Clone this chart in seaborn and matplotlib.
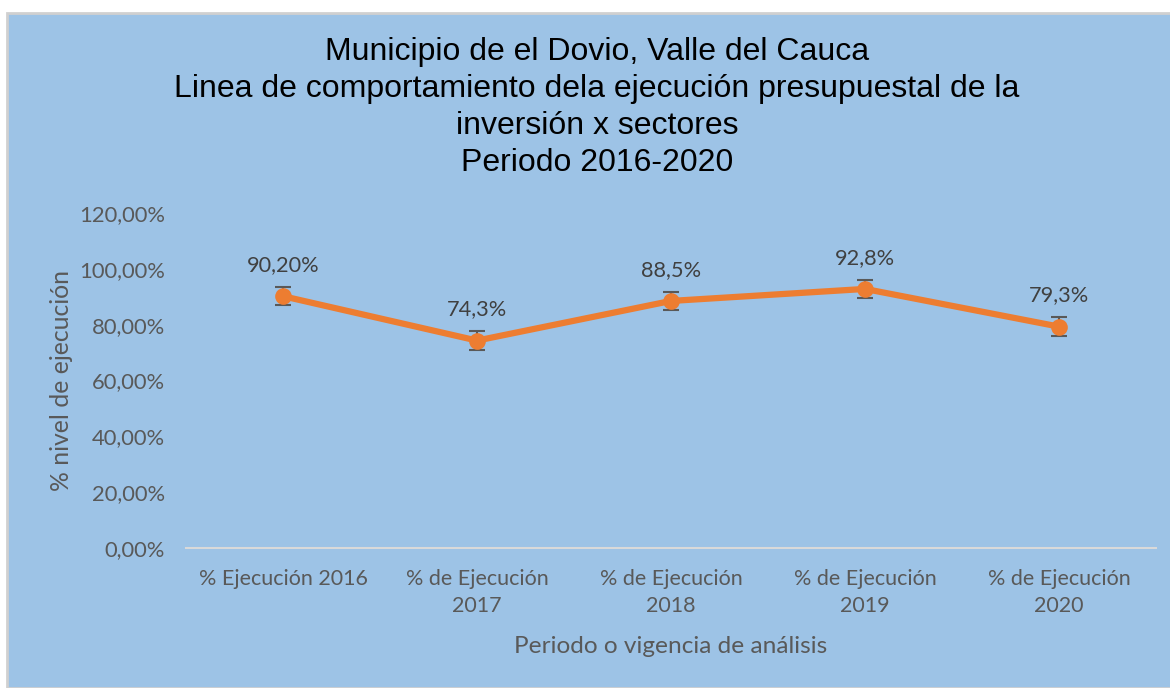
import matplotlib
matplotlib.use("Agg")
import matplotlib.pyplot as plt
import seaborn as sns
import pandas as pd
from matplotlib.patches import Rectangle
from matplotlib.ticker import FuncFormatter, MultipleLocator

# data
CATEGORIES = ["% Ejecución 2016", "% de Ejecución\n2017", "% de Ejecución\n2018",
              "% de Ejecución\n2019", "% de Ejecución\n2020"]
VALUES = [90.2, 74.3, 88.5, 92.8, 79.3]
ERRORS = [3.3, 3.3, 3.3, 3.3, 3.3]
LABELS = ["90,20%", "74,3%", "88,5%", "92,8%", "79,3%"]

TITLE = ("Municipio de el Dovio, Valle del Cauca\n"
         "Linea de comportamiento dela ejecución presupuestal de la\n"
         "inversión x sectores\n"
         "Periodo 2016-2020")

BG = "#9DC3E6"
ORANGE = "#ED7D31"
GRAY = "#595959"
BODY_FONT = ["Lato", "DejaVu Sans"]

sns.set_theme(style="white")
plt.rcParams["font.family"] = BODY_FONT

df = pd.DataFrame({"periodo": CATEGORIES, "valor": VALUES})

W, H = 1170, 688
fig = plt.figure(figsize=(W / 100, H / 100), dpi=100)
fig.patch.set_facecolor("white")
fig.patches.append(Rectangle((7 / W, 0), 1, 1 - 13 / H, transform=fig.transFigure,
                             facecolor=BG, edgecolor="#D0D0D0", linewidth=2, zorder=-5))

ax = fig.add_axes([186 / W, 1 - 548 / H, (1156 - 186) / W, (548 - 213) / H])
ax.set_zorder(2)
ax.patch.set_alpha(0)

pos = list(range(len(CATEGORIES)))
sns.lineplot(x=pos, y=VALUES, ax=ax, color=ORANGE, linewidth=4.5, marker="o",
             markersize=12, markeredgewidth=0, zorder=3)
ax.errorbar(pos, VALUES, yerr=ERRORS, fmt="none", ecolor=GRAY, elinewidth=1.5,
            capsize=6, capthick=1.5, zorder=2)

for x, y, lab in zip(pos, VALUES, LABELS):
    ax.annotate(lab, (x, y), xytext=(0, 22.5), textcoords="offset points",
                ha="center", va="center", fontsize=15.7, color="#404040")

ax.set_xlim(-0.5, len(CATEGORIES) - 0.5)
ax.set_ylim(0, 120)
ax.yaxis.set_major_locator(MultipleLocator(20))
ax.yaxis.set_major_formatter(FuncFormatter(lambda v, p: f"{v:.2f}%".replace(".", ",")))
ax.set_xticks(pos)
ax.set_xticklabels(CATEGORIES)
ax.tick_params(axis="both", length=0, labelcolor=GRAY)
ax.tick_params(axis="x", pad=15, labelsize=15.5)
ax.tick_params(axis="y", pad=15, labelsize=15.8)
for t in ax.get_xticklabels():
    t.set_linespacing(1.42)

for s in ["top", "right", "left"]:
    ax.spines[s].set_visible(False)
ax.spines["bottom"].set_color("#D9D9D9")
ax.spines["bottom"].set_linewidth(1.5)
ax.grid(False)

ax.set_xlabel("Periodo o vigencia de análisis", fontsize=17.6, color=GRAY, labelpad=15)
ax.set_ylabel("% nivel de ejecución", fontsize=17.8, color=GRAY, labelpad=4.5)

fig.text(0.5 + 12 / W, 1 - 37 / H, TITLE, ha="center", va="top", fontsize=23,
         color="black", family=["Liberation Sans", "DejaVu Sans"], linespacing=1.31)

fig.savefig("out.png", dpi=100)
